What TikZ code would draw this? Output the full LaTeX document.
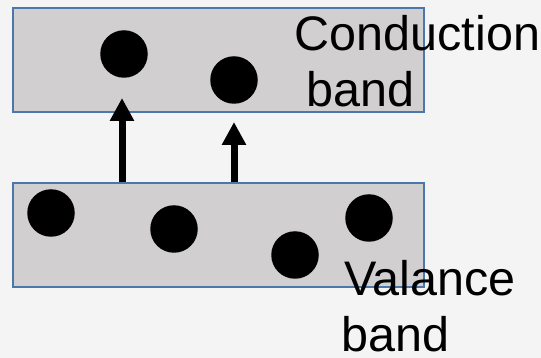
\documentclass[tikz,border=0pt]{standalone}
\usepackage{fontspec}
\setmainfont{Liberation Sans}
\usetikzlibrary{arrows.meta}
\definecolor{bgc}{HTML}{F4F4F4}
\definecolor{bandfill}{HTML}{D1CFD0}
\definecolor{bandline}{HTML}{4A78AA}
\tikzset{
  bandbox/.style={draw=bandline, fill=bandfill, line width=1.8pt, rectangle, inner sep=0pt, minimum width=411pt, minimum height=104pt},
  electron/.style={circle, fill=black, inner sep=0pt, minimum size=47.5pt},
  uparrow/.style={line width=7pt, -{Triangle[width=23pt,length=23pt]}},
  lbl/.style={inner sep=0pt, anchor=base west, font=\fontsize{48.5}{57}\selectfont}
}
\begin{document}
\begin{tikzpicture}[x=1pt,y=-1pt]
\fill[bgc] (0,0) rectangle (541,358);
\useasboundingbox (0,0) rectangle (541,358);
% bands
\node[bandbox] (cb) at (218.5,60) {};
\node[bandbox] (vb) at (218.5,235) {};
% electrons in conduction band
\node[electron] (c1) at (124,54) {};
\node[electron] (c2) at (234,80) {};
% electrons in valence band
\node[electron] (v1) at (51,213) {};
\node[electron] (v2) at (174,229) {};
\node[electron] (v3) at (295,255) {};
\node[electron] (v4) at (369,218) {};
% arrows
\coordinate (t1) at (122,98);
\coordinate (t2) at (234,122);
\draw[uparrow] (vb.north -| t1) -- (t1);
\draw[uparrow] (vb.north -| t2) -- (t2);
% labels
\node[lbl] (cl1) at (294.5,51) {Conduction};
\node[lbl] (cl2) at (306.5,107) {band};
\node[lbl] (vl1) at (344,295) {Valance};
\node[lbl] (vl2) at (341,351) {band};
\end{tikzpicture}
\end{document}
